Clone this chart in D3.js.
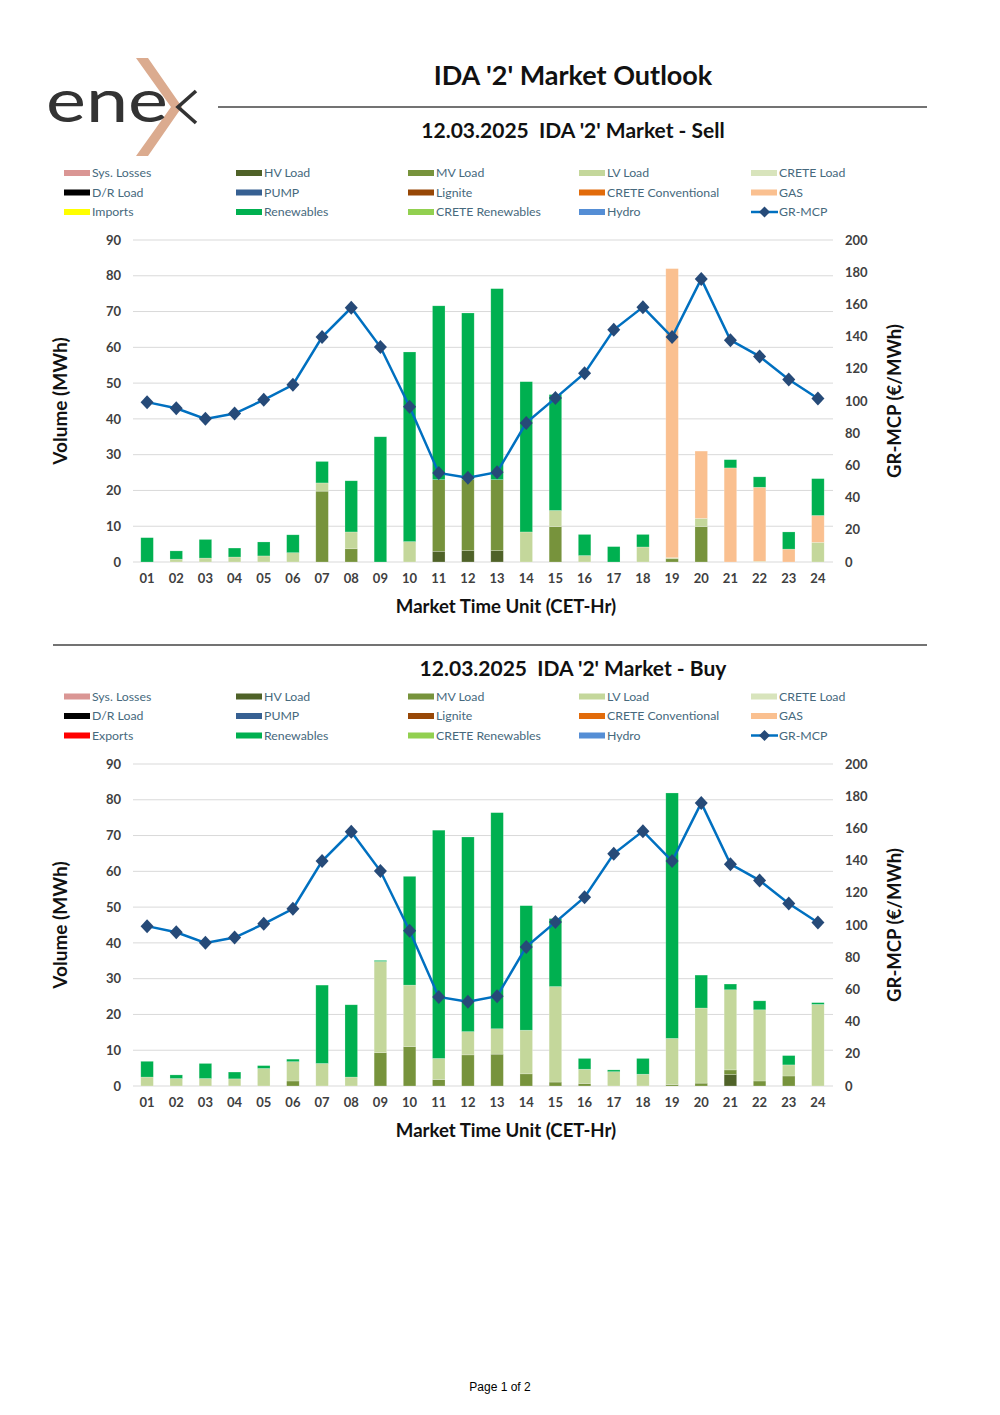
<!DOCTYPE html>
<html><head><meta charset="utf-8">
<script src="https://cdn.jsdelivr.net/npm/d3@7/dist/d3.min.js"></script>
<style>
html,body{margin:0;padding:0;background:#fff;}
svg{display:block;}
text{white-space:pre;}
</style></head>
<body>
<svg id="page" width="1000" height="1415"></svg>
<script>
// ---------- DATA ----------
const hours = ["01","02","03","04","05","06","07","08","09","10","11","12","13","14","15","16","17","18","19","20","21","22","23","24"];
const volumeTicks = [0,10,20,30,40,50,60,70,80,90];
const priceTicks = [0,20,40,60,80,100,120,140,160,180,200];
const grMcp = [99.3,95.5,88.9,92.2,100.7,110.1,139.7,157.9,133.5,96.4,55.3,52.4,55.8,86.4,101.8,117.3,144.2,158.3,139.7,175.8,137.8,127.7,113.4,101.6];

// Sell
const sellHV  = [0,0,0,0,0,0,0,0,0,0,3.0,3.2,3.2,0,0,0,0,0,0,0,0,0,0,0];
const sellMV  = [0,0,0,0,0,0,19.8,3.7,0,0,20.0,19.8,19.8,0,9.9,0,0,0,0.9,9.9,0,0,0,0];
const sellLV  = [0,0.8,1.1,1.4,1.7,2.6,2.3,4.7,0,5.7,0,0,0,8.4,4.5,1.8,0,4.2,0.3,2.3,0,0.2,0,5.5];
const sellGAS = [0,0,0,0,0,0,0,0,0,0,0,0,0,0,0,0,0,0,80.8,18.8,26.3,20.7,3.6,7.5];
const sellRen = [6.8,2.3,5.2,2.5,3.9,5.0,6.0,14.3,35.0,53.0,48.6,46.6,53.4,42.0,32.4,5.9,4.3,3.5,0,0,2.3,2.9,4.8,10.3];

// Buy
const buyHV  = [0,0,0,0,0,0,0,0,0,0,0,0,0,0,0,0,0,0,0,0,3.2,0,0,0];
const buyMV  = [0,0,0,0,0,1.4,0,0,9.3,11.0,1.8,8.7,8.9,3.4,1.1,0.7,0,0,0.4,0.8,1.3,1.4,2.8,0];
const buyLV  = [2.5,2.1,2.1,2.0,4.9,5.4,6.3,2.5,25.5,17.2,5.9,6.5,7.1,12.2,26.7,4.0,4.0,3.3,12.9,21.0,22.4,19.9,3.1,22.8];
const buyRen = [4.4,1.0,4.2,1.9,0.8,0.7,21.9,20.2,0.3,30.4,63.8,54.4,60.4,34.8,19.0,3.0,0.5,4.4,68.6,9.2,1.6,2.5,2.6,0.5];

const sellLegend = [
  ["Sys. Losses","#da9694"],["HV Load","#4f6228"],["MV Load","#77933c"],["LV Load","#c4d79b"],["CRETE Load","#d8e4bc"],
  ["D/R Load","#000000"],["PUMP","#366092"],["Lignite","#974706"],["CRETE Conventional","#e26b0a"],["GAS","#fac090"],
  ["Imports","#ffff00"],["Renewables","#00b050"],["CRETE Renewables","#92d050"],["Hydro","#558ed5"],["GR-MCP","line"]
];
const buyLegend = sellLegend.map(d => d[0]==="Imports" ? ["Exports","#ff0000"] : d);

const colorOf = {"HV Load":"#4f6228","MV Load":"#77933c","LV Load":"#c4d79b","GAS":"#fac090","Renewables":"#00b050"};

const sellSeries = [["HV Load",sellHV],["MV Load",sellMV],["LV Load",sellLV],["GAS",sellGAS],["Renewables",sellRen]];
const buySeries  = [["HV Load",buyHV],["MV Load",buyMV],["LV Load",buyLV],["Renewables",buyRen]];

// ---------- DRAW ----------
const svg = d3.select("#page");
const FONT = "Lato, 'Open Sans', sans-serif";

// Logo
const logo = svg.append("g");
logo.append("polygon")
  .attr("points","136,58 148,58 182,107 148,156 136,156 171,107")
  .attr("fill","#dbab8f");
logo.append("text").attr("x",46).attr("y",122)
  .attr("font-family",FONT).attr("font-size",60).attr("font-weight",400)
  .attr("fill","#333").attr("textLength",122).attr("lengthAdjust","spacingAndGlyphs")
  .text("ene");
logo.append("polyline").attr("points","196,91 178,107 196,123")
  .attr("fill","none").attr("stroke","#333").attr("stroke-width",3.6);

// Main title
svg.append("text").attr("x",573).attr("y",85).attr("text-anchor","middle")
  .attr("font-family",FONT).attr("font-weight",700).attr("font-size",27).attr("fill","#111")
  .text("IDA '2' Market Outlook");
svg.append("line").attr("x1",218).attr("x2",927).attr("y1",107).attr("y2",107)
  .attr("stroke","#444").attr("stroke-width",1.3);
svg.append("line").attr("x1",53).attr("x2",927).attr("y1",645).attr("y2",645)
  .attr("stroke","#444").attr("stroke-width",1.6);

function drawChart(cfg){
  const g = svg.append("g");
  // subtitle
  g.append("text").attr("x",573).attr("y",cfg.subY).attr("text-anchor","middle")
    .attr("font-family",FONT).attr("font-weight",700).attr("font-size",21).attr("fill","#111")
    .text(cfg.subtitle);

  // legend
  const colX = [64,236,408,579,751];
  const rowY = [cfg.legY, cfg.legY+19.5, cfg.legY+39];
  cfg.legend.forEach((d,i)=>{
    const x = colX[i%5], y = rowY[Math.floor(i/5)];
    if(d[1]==="line"){
      g.append("line").attr("x1",x).attr("x2",x+27).attr("y1",y).attr("y2",y)
        .attr("stroke","#0070c0").attr("stroke-width",2.5);
      g.append("path").attr("d",`M${x+13.5},${y-5.5}L${x+19},${y}L${x+13.5},${y+5.5}L${x+8},${y}Z`)
        .attr("fill","#264a78");
    } else {
      g.append("rect").attr("x",x).attr("y",y-3).attr("width",26).attr("height",6).attr("fill",d[1]);
    }
    g.append("text").attr("x",x+28).attr("y",y+4).attr("font-family",FONT).attr("font-size",12.3)
      .attr("fill","#46697d").text(d[0]);
  });

  const x = d3.scaleBand().domain(hours).range([132.5,832.5]).paddingInner(0.57).paddingOuter(0.285);
  const yL = d3.scaleLinear().domain([0,90]).range([cfg.zero, cfg.zero-322]);
  const yR = d3.scaleLinear().domain([0,200]).range([cfg.zero, cfg.zero-322]);

  // grid
  g.append("g").selectAll("line").data(volumeTicks).join("line")
    .attr("x1",133).attr("x2",833).attr("y1",d=>yL(d)).attr("y2",d=>yL(d))
    .attr("stroke","#d9d9d9").attr("stroke-width",1);

  // axes
  const axL = g.append("g").attr("transform","translate(133,0)")
    .call(d3.axisLeft(yL).tickValues(volumeTicks).tickSize(0).tickPadding(12));
  const axR = g.append("g").attr("transform","translate(833,0)")
    .call(d3.axisRight(yR).tickValues(priceTicks).tickSize(0).tickPadding(12));
  const axB = g.append("g").attr("transform",`translate(0,${cfg.zero})`)
    .call(d3.axisBottom(x).tickSize(0).tickPadding(12));
  [axL,axR,axB].forEach(a=>{
    a.select(".domain").remove();
    a.selectAll("text").attr("font-family",FONT).attr("font-size",13).attr("font-weight",700).attr("fill","#404040");
  });

  // stacked bars
  const table = hours.map((h,i)=>{
    const o = {hour:h};
    cfg.series.forEach(s=>o[s[0]] = s[1][i]);
    return o;
  });
  const stack = d3.stack().keys(cfg.series.map(s=>s[0]))(table);
  g.append("g").selectAll("g").data(stack).join("g")
    .attr("fill",d=>colorOf[d.key])
    .selectAll("rect").data(d=>d.filter(p=>p[1]-p[0]>0)).join("rect")
    .attr("x",d=>x(d.data.hour)).attr("width",x.bandwidth())
    .attr("y",d=>yL(d[1])).attr("height",d=>yL(d[0])-yL(d[1]))
    .attr("stroke","rgba(255,255,255,0.35)").attr("stroke-width",0.6);

  // price line
  const cx = h => x(h)+x.bandwidth()/2;
  g.append("path").datum(grMcp)
    .attr("d",d3.line().x((d,i)=>cx(hours[i])).y(d=>yR(d)))
    .attr("fill","none").attr("stroke","#0070c0").attr("stroke-width",2.5);
  g.append("g").selectAll("path").data(grMcp).join("path")
    .attr("d",(d,i)=>{const X=cx(hours[i]),Y=yR(d);return `M${X},${Y-7}L${X+6.5},${Y}L${X},${Y+7}L${X-6.5},${Y}Z`;})
    .attr("fill","#264a78");

  // axis titles
  g.append("text").attr("transform",`translate(67,${cfg.zero-161}) rotate(-90)`).attr("text-anchor","middle")
    .attr("font-family",FONT).attr("font-weight",700).attr("font-size",19).attr("fill","#111")
    .text("Volume (MWh)");
  g.append("text").attr("transform",`translate(901,${cfg.zero-161}) rotate(-90)`).attr("text-anchor","middle")
    .attr("font-family",FONT).attr("font-weight",700).attr("font-size",18.5).attr("fill","#111")
    .text("GR-MCP (€/MWh)");
  g.append("text").attr("x",506).attr("y",cfg.zero+51).attr("text-anchor","middle")
    .attr("font-family",FONT).attr("font-weight",700).attr("font-size",18.6).attr("fill","#111")
    .text("Market Time Unit (CET-Hr)");
}

drawChart({subtitle:"12.03.2025  IDA '2' Market - Sell", subY:138, legY:173, zero:562, legend:sellLegend, series:sellSeries});
drawChart({subtitle:"12.03.2025  IDA '2' Market - Buy", subY:676, legY:696.5, zero:1086, legend:buyLegend, series:buySeries});

svg.append("text").attr("x",500).attr("y",1391).attr("text-anchor","middle")
  .attr("font-family","'Liberation Sans', Arial, sans-serif").attr("font-size",12).attr("fill","#000")
  .text("Page 1 of 2");
</script>
</body></html>
